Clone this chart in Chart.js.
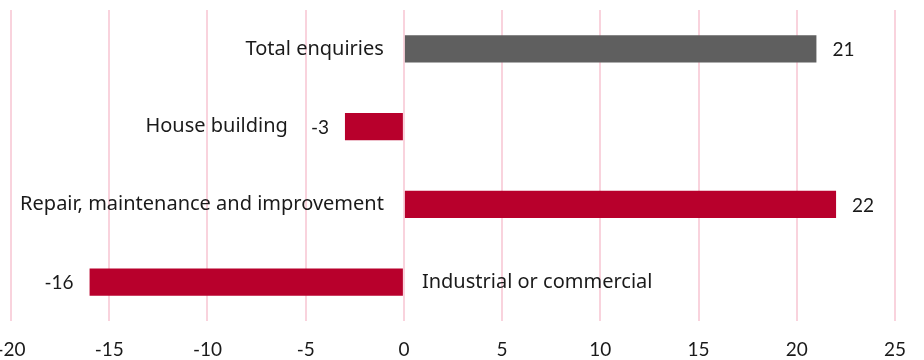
<!DOCTYPE html>
<html>
<head>
<meta charset="utf-8">
<script src="https://cdn.jsdelivr.net/npm/chart.js@4"></script>
<style>
  html, body { margin: 0; padding: 0; background: #fff; }
  #wrap { width: 924px; height: 360px; }
</style>
</head>
<body>
<div id="wrap"><canvas id="chart"></canvas></div>
<script>
const categories = ['Total enquiries', 'House building', 'Repair, maintenance and improvement', 'Industrial or commercial'];
const balances = [21, -3, 22, -16];
const barColors = ['#5f5f5f', '#b8002c', '#b8002c', '#b8002c'];
const xMin = -20, xMax = 25, xStep = 5;

const NUM_FONT = "Lato, 'Noto Sans', sans-serif";
const CAT_FONT = "'Noto Sans', 'Open Sans', sans-serif";

// category names sit beside the zero line, values at the end of each bar
const barLabels = {
    id: 'barLabels',
    afterDatasetsDraw(chart) {
        const ctx = chart.ctx;
        const meta = chart.getDatasetMeta(0);
        const zeroX = chart.scales.x.getPixelForValue(0);
        ctx.save();
        ctx.fillStyle = '#1a1a1a';
        ctx.textBaseline = 'middle';
        meta.data.forEach((bar, i) => {
            const v = balances[i];
            const txt = String(v);
            ctx.font = '19px ' + NUM_FONT;
            let valLeft;
            if (v >= 0) {
                ctx.textAlign = 'left';
                ctx.fillText(txt, bar.x + 16, bar.y + 1);
            } else {
                ctx.textAlign = 'right';
                ctx.fillText(txt, bar.x - 16, bar.y + 1);
                valLeft = bar.x - 16 - ctx.measureText(txt).width;
            }
            ctx.font = '20px ' + CAT_FONT;
            if (v >= 0) {
                ctx.textAlign = 'right';
                ctx.fillText(categories[i], zeroX - 20, bar.y);
            } else if (zeroX - bar.x < 100) {
                // short negative bar: name goes further left, past its value
                ctx.textAlign = 'right';
                ctx.fillText(categories[i], valLeft - 23, bar.y);
            } else {
                ctx.textAlign = 'left';
                ctx.fillText(categories[i], zeroX + 18, bar.y);
            }
        });
        ctx.restore();
    }
};

new Chart(document.getElementById('chart'), {
    type: 'bar',
    data: {
        labels: categories,
        datasets: [{
            data: balances,
            backgroundColor: barColors,
            categoryPercentage: 1,
            barPercentage: 0.35
        }]
    },
    options: {
        indexAxis: 'y',
        responsive: true,
        maintainAspectRatio: false,
        animation: false,
        layout: { padding: { left: 11, right: 29, top: 10, bottom: 0 } },
        plugins: {
            legend: { display: false },
            tooltip: { enabled: false }
        },
        scales: {
            x: {
                min: xMin,
                max: xMax,
                afterFit(scale) {
                    // let the end tick labels run past the canvas edge,
                    // and keep the axis band a fixed height
                    scale.paddingLeft = 0;
                    scale.paddingRight = 0;
                    scale.height = 39;
                },
                grid: { color: '#f9d3dd', lineWidth: 2, drawTicks: false },
                border: { display: false },
                ticks: {
                    stepSize: xStep,
                    color: '#1a1a1a',
                    padding: 17,
                    font: { family: NUM_FONT, size: 19 }
                }
            },
            y: {
                display: false
            }
        }
    },
    plugins: [barLabels]
});
</script>
</body>
</html>
